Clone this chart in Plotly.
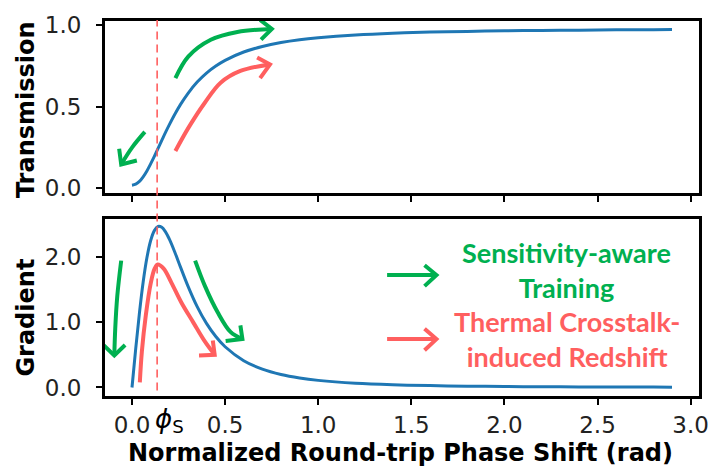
import plotly.graph_objects as go

# ---------------- data ----------------
phase = [0.0, 0.02, 0.04, 0.06, 0.08, 0.10, 0.12, 0.14, 0.16, 0.18, 0.20, 0.23, 0.26,
         0.30, 0.35, 0.40, 0.45, 0.50, 0.60, 0.70, 0.80, 0.90, 1.0, 1.2, 1.4, 1.6,
         1.8, 2.0, 2.2, 2.4, 2.6, 2.8, 2.9]
transmission = [0.020, 0.026, 0.043, 0.071, 0.107, 0.150, 0.196, 0.245, 0.294, 0.343,
                0.389, 0.454, 0.513, 0.581, 0.651, 0.706, 0.749, 0.784, 0.835, 0.869,
                0.893, 0.910, 0.922, 0.939, 0.950, 0.957, 0.961, 0.965, 0.967, 0.969,
                0.971, 0.972, 0.973]
gradient = [0.0, 0.593, 1.142, 1.613, 1.983, 2.244, 2.399, 2.462, 2.449, 2.380, 2.272,
            2.069, 1.845, 1.555, 1.237, 0.980, 0.779, 0.623, 0.410, 0.280, 0.198, 0.145,
            0.109, 0.065, 0.042, 0.029, 0.020, 0.015, 0.011, 0.009, 0.007, 0.006, 0.005]

# red (redshifted) gradient sketch
red_grad_x = [0.042, 0.053, 0.074, 0.101, 0.122, 0.138, 0.169, 0.212, 0.265, 0.328, 0.392, 0.444]
red_grad_y = [0.08, 0.55, 1.10, 1.60, 1.82, 1.88, 1.82, 1.60, 1.30, 1.00, 0.70, 0.50]
red_grad_head_x = [0.434, 0.444, 0.360]
red_grad_head_y = [0.72, 0.50, 0.49]

phi_s = 0.135

# hand-drawn arrows, top panel
g_top_x = [0.233, 0.302, 0.423, 0.566, 0.751]
g_top_y = [0.675, 0.807, 0.910, 0.958, 0.976]
g_top_head_x = [0.688, 0.751, 0.693]
g_top_head_y = [1.032, 0.976, 0.911]

r_top_x = [0.233, 0.302, 0.392, 0.476, 0.582, 0.741]
r_top_y = [0.229, 0.369, 0.526, 0.647, 0.719, 0.759]
r_top_head_x = [0.672, 0.741, 0.688]
r_top_head_y = [0.801, 0.759, 0.675]

g_dl_x = [0.069, 0.0, -0.058]
g_dl_y = [0.346, 0.25, 0.147]
g_dl_head_x = [-0.069, -0.058, 0.026]
g_dl_head_y = [0.243, 0.147, 0.171]

# hand-drawn arrows, bottom panel
g_bl_x = [-0.058, -0.079, -0.090, -0.095]
g_bl_y = [1.94, 1.40, 0.90, 0.49]
g_bl_head_x = [-0.153, -0.095, -0.037]
g_bl_head_y = [0.65, 0.49, 0.65]

g_br_x = [0.339, 0.392, 0.460, 0.529, 0.593]
g_br_y = [1.94, 1.55, 1.15, 0.85, 0.74]
g_br_head_x = [0.582, 0.593, 0.503]
g_br_head_y = [0.95, 0.74, 0.71]

# key arrows
key_x = [1.370, 1.635]
key_head_x = [1.571, 1.635, 1.571]
key_green_y = 1.72
key_red_y = 0.74
key_green_text = "Sensitivity-aware<br>Training"
key_red_text = "Thermal Crosstalk-<br>induced Redshift"
key_text_x = 2.335
key_green_text_y = 1.80
key_red_text_y = 0.74

x_ticks = [0.0, 0.5, 1.0, 1.5, 2.0, 2.5, 3.0]
x_tick_text = ["0.0", "0.5", "1.0", "1.5", "2.0", "2.5", "3.0"]
top_y_ticks = [0.0, 0.5, 1.0]
top_y_text = ["0.0", "0.5", "1.0"]
bot_y_ticks = [0.0, 1.0, 2.0]
bot_y_text = ["0.0", "1.0", "2.0"]

BLUE = "#1f77b4"
GREEN = "#00B050"
RED = "#FF5F5F"

fig = go.Figure()


def line(x, y, color, width, xa="x", ya="y", shape="spline"):
    fig.add_trace(go.Scatter(x=x, y=y, mode="lines", xaxis=xa, yaxis=ya,
                             line=dict(color=color, width=width, shape=shape, smoothing=1.0),
                             hoverinfo="skip", showlegend=False))


# main curves
line(phase, transmission, BLUE, 3, "x", "y")
line(phase, gradient, BLUE, 3, "x2", "y2")

# top arrows
line(g_top_x, g_top_y, GREEN, 4, "x", "y")
line(g_top_head_x, g_top_head_y, GREEN, 4, "x", "y", "linear")
line(r_top_x, r_top_y, RED, 4, "x", "y")
line(r_top_head_x, r_top_head_y, RED, 4, "x", "y", "linear")
line(g_dl_x, g_dl_y, GREEN, 4, "x", "y")
line(g_dl_head_x, g_dl_head_y, GREEN, 4, "x", "y", "linear")

# bottom arrows
line(red_grad_x, red_grad_y, RED, 4, "x2", "y2")
line(red_grad_head_x, red_grad_head_y, RED, 4, "x2", "y2", "linear")
line(g_bl_x, g_bl_y, GREEN, 4, "x2", "y2")
line(g_bl_head_x, g_bl_head_y, GREEN, 4, "x2", "y2", "linear")
line(g_br_x, g_br_y, GREEN, 4, "x2", "y2")
line(g_br_head_x, g_br_head_y, GREEN, 4, "x2", "y2", "linear")

# key arrows
line(key_x, [key_green_y] * 2, GREEN, 4, "x2", "y2", "linear")
line(key_head_x, [key_green_y + 0.15, key_green_y, key_green_y - 0.17], GREEN, 4, "x2", "y2", "linear")
line(key_x, [key_red_y] * 2, RED, 4, "x2", "y2", "linear")
line(key_head_x, [key_red_y + 0.16, key_red_y, key_red_y - 0.17], RED, 4, "x2", "y2", "linear")

TICKFONT = dict(family="DejaVu Sans", size=23, color="#222222")
axis_common = dict(showgrid=False, zeroline=False, showline=True, linecolor="black",
                   linewidth=3, mirror=True, ticks="outside", ticklen=6, tickwidth=1.5,
                   tickcolor="black", tickfont=TICKFONT)

fig.update_layout(
    width=721, height=469,
    margin=dict(l=105, r=13, t=13, b=73),
    plot_bgcolor="white", paper_bgcolor="white",
    xaxis=dict(domain=[0, 1], anchor="y", range=[-0.145, 3.045], tickvals=x_ticks,
               ticktext=x_tick_text, showticklabels=False, **axis_common),
    yaxis=dict(domain=[0.5405, 1.0], anchor="x", range=[-0.03, 1.025], tickvals=top_y_ticks,
               ticktext=top_y_text, ticklabelstandoff=10, **axis_common),
    xaxis2=dict(domain=[0, 1], anchor="y2", matches="x", range=[-0.145, 3.045],
                tickvals=x_ticks, ticktext=x_tick_text, ticklabelstandoff=0, **axis_common),
    yaxis2=dict(domain=[0.0, 0.4726], anchor="x2", range=[-0.13, 2.58], tickvals=bot_y_ticks,
                ticktext=bot_y_text, ticklabelstandoff=10, **axis_common),
)

# dashed phi_s line across both panels
fig.add_shape(type="line", xref="x", yref="paper", x0=phi_s, x1=phi_s, y0=0.015, y1=1.003,
              line=dict(color=RED, width=1.6, dash="8px,5px"), layer="above")

TITLEFONT = dict(family="DejaVu Sans", size=24, color="black")
fig.add_annotation(text="<b>Transmission</b>", xref="paper", yref="paper", x=-0.133, y=0.765,
                   textangle=-90, showarrow=False, font=TITLEFONT, xanchor="center", yanchor="middle")
fig.add_annotation(text="<b>Gradient</b>", xref="paper", yref="paper", x=-0.133, y=0.209,
                   textangle=-90, showarrow=False, font=TITLEFONT, xanchor="center", yanchor="middle")
fig.add_annotation(text="<b>Normalized Round-trip Phase Shift (rad)</b>", xref="paper", yref="paper",
                   x=0.4975, y=-0.152, showarrow=False, font=TITLEFONT,
                   xanchor="center", yanchor="middle")
fig.add_annotation(text="<i>ϕ</i><sub>S</sub>", xref="x2", yref="paper", x=0.112, y=-0.064,
                   showarrow=False, font=dict(family="DejaVu Sans", size=26, color="black"),
                   xanchor="left", yanchor="middle")

KEYFONT = dict(family="Lato", size=27)
fig.add_annotation(text="<b>" + key_green_text + "</b>", xref="x2", yref="y2", x=key_text_x,
                   y=key_green_text_y, showarrow=False, font=dict(color=GREEN, **KEYFONT),
                   align="center", xanchor="center", yanchor="middle")
fig.add_annotation(text="<b>" + key_red_text + "</b>", xref="x2", yref="y2", x=key_text_x,
                   y=key_red_text_y, showarrow=False, font=dict(color=RED, **KEYFONT),
                   align="center", xanchor="center", yanchor="middle")

fig.write_html("out.html")
